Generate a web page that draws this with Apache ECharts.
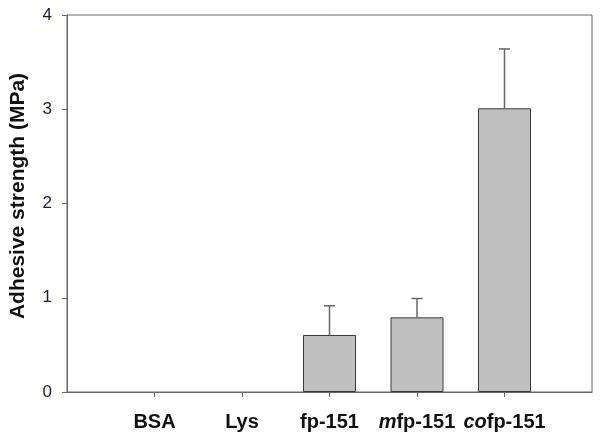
<!DOCTYPE html>
<html>
<head>
<meta charset="utf-8">
<script src="https://cdn.jsdelivr.net/npm/echarts@6/dist/echarts.min.js"></script>
<style>html,body{margin:0;padding:0;background:#fff}#c{width:600px;height:447px}</style>
</head>
<body>
<div id="c"></div>
<script>
var categories = ['', 'BSA', 'Lys', 'fp-151', 'mfp-151', 'cofp-151', ''];
var italicPrefix = ['', '', '', '', 'm', 'co', ''];
var meanValues = [null, null, null, 0.605, 0.792, 3.01, null];
var errorValues = [null, null, null, 0.31, 0.20, 0.63, null];
var yTicks = [0, 1, 2, 3, 4];

var chart = echarts.init(document.getElementById('c'), null, {renderer: 'canvas'});
var font = '"Liberation Sans", Arial, sans-serif';
var errData = [];
for (var i = 0; i < categories.length; i++) {
  if (meanValues[i] != null) errData.push([i, meanValues[i], errorValues[i]]);
}
chart.setOption({
  animation: false,
  backgroundColor: '#fff',
  grid: {left: 67, right: 8, top: 15, bottom: 55, show: true, borderColor: '#666', borderWidth: 1, backgroundColor: 'transparent'},
  xAxis: {
    type: 'category',
    data: categories,
    boundaryGap: false,
    axisLine: {lineStyle: {color: '#666', width: 1}},
    axisTick: {show: true, length: 5, inside: false, lineStyle: {color: '#666'},
      interval: function (idx) { return idx > 0 && idx < categories.length - 1; }},
    axisLabel: {
      interval: 0,
      margin: 20,
      fontFamily: font,
      fontSize: 20,
      fontWeight: 'bold',
      color: '#111',
      formatter: function (v, idx) {
        if (!v) return '';
        var p = italicPrefix[idx];
        if (p) return '{i|' + p + '}{b|' + v.slice(p.length) + '}';
        return '{b|' + v + '}';
      },
      rich: {
        i: {fontFamily: font, fontSize: 20, fontWeight: 'bold', fontStyle: 'italic', color: '#111'},
        b: {fontFamily: font, fontSize: 20, fontWeight: 'bold', color: '#111'}
      }
    },
    splitLine: {show: false}
  },
  yAxis: {
    type: 'value',
    min: yTicks[0],
    max: yTicks[yTicks.length - 1],
    interval: 1,
    name: 'Adhesive strength (MPa)',
    nameLocation: 'middle',
    nameGap: 38,
    nameTextStyle: {fontFamily: font, fontSize: 21, fontWeight: 'bold', color: '#111', padding: [0, 0, 0, 15]},
    axisLine: {show: true, lineStyle: {color: '#666', width: 1}},
    axisTick: {show: true, length: 5, lineStyle: {color: '#666'}},
    axisLabel: {margin: 15, fontFamily: font, fontSize: 17, color: '#1a1a3a'},
    splitLine: {show: false}
  },
  series: [
    {
      type: 'bar',
      data: meanValues,
      barWidth: 53,
      itemStyle: {color: '#c0c0c0', borderColor: '#3a3a3a', borderWidth: 1}
    },
    {
      type: 'custom',
      data: errData,
      z: 1,
      renderItem: function (params, api) {
        var x = api.value(0), m = api.value(1), e = api.value(2);
        var p0 = api.coord([x, m]);
        var p1 = api.coord([x, m + e]);
        var hw = 5.5;
        return {
          type: 'group',
          children: [
            {type: 'line', shape: {x1: p0[0], y1: p0[1], x2: p1[0], y2: p1[1]}, style: {stroke: '#666', lineWidth: 1.5}},
            {type: 'line', shape: {x1: p1[0] - hw, y1: p1[1], x2: p1[0] + hw, y2: p1[1]}, style: {stroke: '#666', lineWidth: 1.5}}
          ]
        };
      }
    }
  ]
});
</script>
</body>
</html>
